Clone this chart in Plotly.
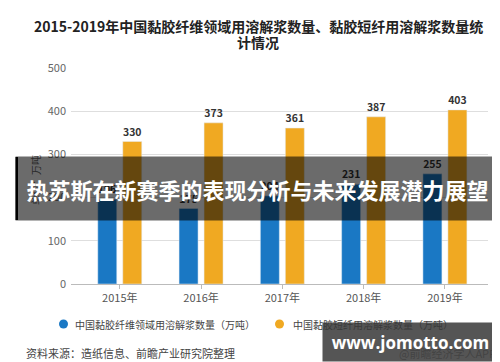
import plotly.graph_objects as go

years = ["2015年", "2016年", "2017年", "2018年", "2019年"]
fiber_field = [196, 175, 204, 231, 255]
staple_fiber = [330, 373, 361, 387, 403]
series_names = ["中国黏胶纤维领域用溶解浆数量（万吨）", "中国黏胶短纤用溶解浆数量（万吨）"]
title_line1 = "2015-2019年中国黏胶纤维领域用溶解浆数量、黏胶短纤用溶解浆数量统"
title_line2 = "计情况"
y_unit = "单位：万吨"
source_text = "资料来源：造纸信息、前瞻产业研究院整理"
banner_text = "热苏斯在新赛季的表现分析与未来发展潜力展望"
watermark_text = "www.jomotto.com"
app_text = "@前瞻经济学人APP"

BLUE = "#1a78c4"
ORANGE = "#f0a922"
FONT = "Noto Sans CJK SC"

W, H = 500, 362
L, R, T, B = 63, 20, 60, 86
PW, PH = W - L - R, H - T - B


def px(x):
    return (x - L) / PW


def py(y):
    return (H - B - y) / PH


fig = go.Figure()
fig.add_trace(go.Bar(x=years, y=fiber_field, marker_color=BLUE, name=series_names[0],
                     text=fiber_field, texttemplate="<b>%{y}</b>", textposition="outside",
                     textfont=dict(size=11, color="#333", family=FONT), cliponaxis=False,
                     showlegend=False))
fig.add_trace(go.Bar(x=years, y=staple_fiber, marker_color=ORANGE, name=series_names[1],
                     text=staple_fiber, texttemplate="<b>%{y}</b>", textposition="outside",
                     textfont=dict(size=11, color="#333", family=FONT), cliponaxis=False,
                     showlegend=False))

fig.update_layout(
    width=W, height=H,
    margin=dict(l=L, r=R, t=T, b=B),
    paper_bgcolor="white", plot_bgcolor="white",
    barmode="group", bargap=0.385, bargroupgap=0.24,
    font=dict(family=FONT, color="#555", size=11),
    xaxis=dict(range=[-0.6, 4.53], showgrid=False, showline=True, linecolor="#bbb",
               ticks="outside", ticklen=4, tickcolor="#bbb",
               tickfont=dict(size=11, color="#555"), fixedrange=True),
    yaxis=dict(range=[0, 500], dtick=100, showgrid=True, gridcolor="#dedede",
               zeroline=False, showline=False, ticks="", ticklabelstandoff=4,
               tickfont=dict(size=11, color="#666")),
    uniformtext=dict(minsize=8, mode="show"),
)

anns = []
anns.append(dict(x=px(250), y=py(18), text="<b>" + title_line1 + "</b>", showarrow=False,
                 font=dict(size=14, color="#222", family=FONT), xanchor="center", yanchor="middle"))
anns.append(dict(x=px(250), y=py(34), text="<b>" + title_line2 + "</b>", showarrow=False,
                 font=dict(size=14, color="#222", family=FONT), xanchor="center", yanchor="middle"))
anns.append(dict(x=px(27), y=py(172), text=y_unit, textangle=-90, showarrow=False,
                 font=dict(size=10, color="#666", family=FONT), xanchor="center", yanchor="middle"))
# legend
anns.append(dict(x=px(65), y=py(316), text=series_names[0], showarrow=False,
                 font=dict(size=10, color="#444", family=FONT), xanchor="left", yanchor="middle"))
anns.append(dict(x=px(283), y=py(316), text=series_names[1], showarrow=False,
                 font=dict(size=10, color="#444", family=FONT), xanchor="left", yanchor="middle"))
anns.append(dict(x=px(16), y=py(345), text=source_text, showarrow=False,
                 font=dict(size=11, color="#444", family=FONT), xanchor="left", yanchor="middle"))
anns.append(dict(x=px(490), y=py(345), text=app_text, showarrow=False,
                 font=dict(size=11, color="#888", family=FONT), xanchor="right", yanchor="middle"))
# watermark box
anns.append(dict(x=px(402), y=py(334), text="<b>" + watermark_text + "</b>", showarrow=False,
                 width=175, height=38, bgcolor="rgba(55,55,55,0.85)", borderpad=0,
                 font=dict(size=17, color="white", family="Open Sans"),
                 xanchor="center", yanchor="middle", align="center", valign="middle"))
# banner
anns.append(dict(x=px(249.5), y=py(180.5), text="<b>" + banner_text + "</b>", showarrow=False,
                 width=483, height=63, bgcolor="rgba(0,0,0,0.58)", borderpad=0,
                 font=dict(size=22, color="white", family=FONT),
                 xanchor="center", yanchor="middle", align="center", valign="middle"))
fig.update_layout(annotations=[dict(xref="paper", yref="paper", **a) for a in anns])

shapes = []
# legend dots
shapes.append(dict(type="circle", xref="paper", yref="paper", x0=px(51), x1=px(60),
                   y0=py(320.5), y1=py(311.5), fillcolor=BLUE, line=dict(width=0)))
shapes.append(dict(type="circle", xref="paper", yref="paper", x0=px(267), x1=px(276),
                   y0=py(320.5), y1=py(311.5), fillcolor=ORANGE, line=dict(width=0)))
# banner edges
shapes.append(dict(type="rect", xref="paper", yref="paper", x0=px(7.5), x1=px(10),
                   y0=py(212), y1=py(149), fillcolor="black", line=dict(width=0), layer="above"))
shapes.append(dict(type="rect", xref="paper", yref="paper", x0=px(489), x1=px(491.5),
                   y0=py(212), y1=py(149), fillcolor="black", line=dict(width=0), layer="above"))
shapes.append(dict(type="rect", xref="paper", yref="paper", x0=px(488.5), x1=px(490.5),
                   y0=py(353), y1=py(315), fillcolor="black", line=dict(width=0), layer="above"))
fig.update_layout(shapes=shapes)

fig.write_html("out.html")
